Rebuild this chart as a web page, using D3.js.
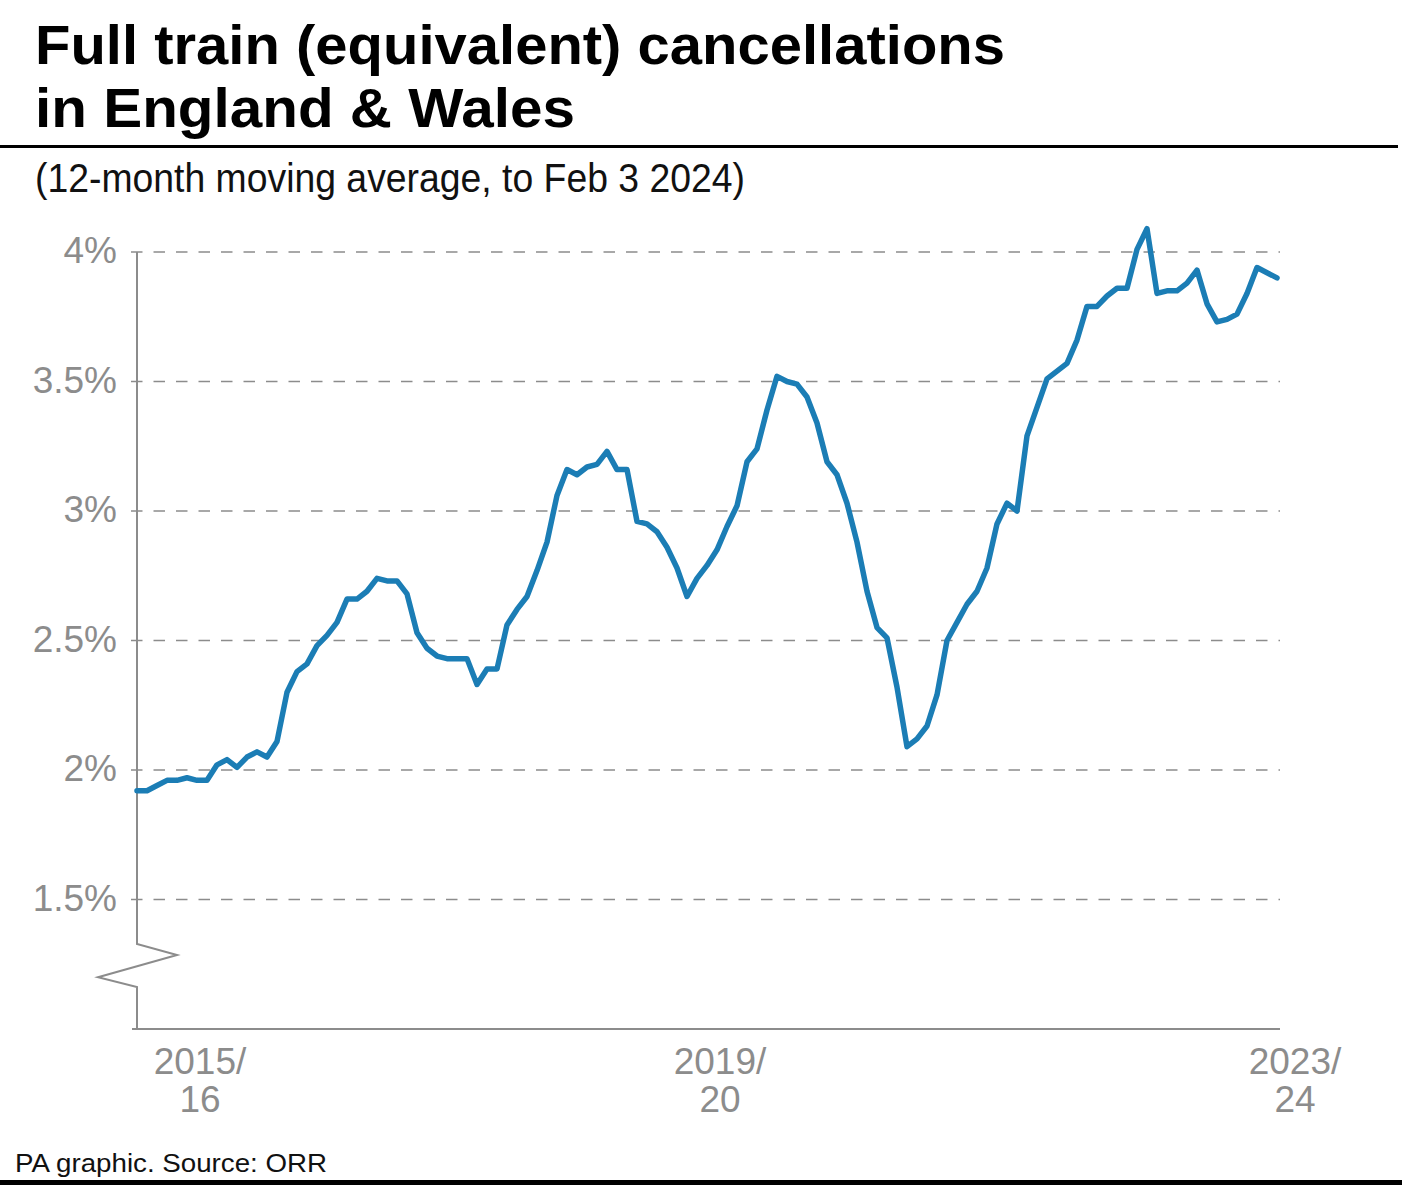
<!DOCTYPE html>
<html>
<head>
<meta charset="utf-8">
<script src="https://cdn.jsdelivr.net/npm/d3@7"></script>
<style>
  html, body { margin: 0; padding: 0; background: #fff; }
  svg { display: block; }
</style>
</head>
<body>
<script>
// ---- Data ----
const years = ["2015/16","2016/17","2017/18","2018/19","2019/20","2020/21","2021/22","2022/23","2023/24"];
const periodsPerYear = 13;
// 12-month moving average of full-train-equivalent cancellations (%), by rail period
const cancellations = [
  1.92, 1.92, 1.94, 1.96, 1.96, 1.97, 1.96, 1.96, 2.02, 2.04, 2.01, 2.05, 2.07,
  2.05, 2.11, 2.30, 2.38, 2.41, 2.48, 2.52, 2.57, 2.66, 2.66, 2.69, 2.74, 2.73,
  2.73, 2.68, 2.53, 2.47, 2.44, 2.43, 2.43, 2.43, 2.33, 2.39, 2.39, 2.56, 2.62,
  2.67, 2.77, 2.88, 3.06, 3.16, 3.14, 3.17, 3.18, 3.23, 3.16, 3.16, 2.96, 2.95,
  2.92, 2.86, 2.78, 2.67, 2.74, 2.79, 2.85, 2.94, 3.02, 3.19, 3.24, 3.39, 3.52,
  3.50, 3.49, 3.44, 3.34, 3.19, 3.14, 3.03, 2.88, 2.69, 2.55, 2.51, 2.32, 2.09,
  2.12, 2.17, 2.29, 2.50, 2.57, 2.64, 2.69, 2.78, 2.95, 3.03, 3.00, 3.29, 3.40,
  3.51, 3.54, 3.57, 3.66, 3.79, 3.79, 3.83, 3.86, 3.86, 4.01, 4.09, 3.84, 3.85,
  3.85, 3.88, 3.93, 3.80, 3.73, 3.74, 3.76, 3.84, 3.94, 3.92, 3.90
];
const periods = cancellations.map((_, i) =>
  years[Math.floor(i / periodsPerYear)] + " P" + (i % periodsPerYear + 1));

const yTicks = [1.5, 2, 2.5, 3, 3.5, 4];
const yTickLabels = ["1.5%", "2%", "2.5%", "3%", "3.5%", "4%"];
const xTickLabels = [["2015/", "16"], ["2019/", "20"], ["2023/", "24"]];
const xTickPeriods = [6.3, 58.3, 115.8];

const title = ["Full train (equivalent) cancellations", "in England & Wales"];
const subtitle = "(12-month moving average, to Feb 3 2024)";
const footer = "PA graphic. Source: ORR";

// ---- Layout ----
const W = 1402, H = 1189;
const svg = d3.select("body").append("svg").attr("width", W).attr("height", H);

const x = d3.scaleLinear().domain([0, cancellations.length - 1]).range([137, 1277]);
const y = d3.scaleLinear().domain([1, 4]).range([1029, 252]);

const gray = "#8c8c8c";
const font = "'Liberation Sans', Arial, Helvetica, sans-serif";

// Title (two lines)
svg.append("text").attr("x", 35).attr("y", 64)
  .attr("font-family", font).attr("font-weight", "bold").attr("font-size", 56)
  .attr("textLength", 970).attr("lengthAdjust", "spacingAndGlyphs")
  .attr("fill", "#000").text(title[0]);
svg.append("text").attr("x", 35).attr("y", 127)
  .attr("font-family", font).attr("font-weight", "bold").attr("font-size", 56)
  .attr("textLength", 540).attr("lengthAdjust", "spacingAndGlyphs")
  .attr("fill", "#000").text(title[1]);

// top rule
svg.append("rect").attr("x", 0).attr("y", 145).attr("width", 1398).attr("height", 3).attr("fill", "#000");

// Subtitle
svg.append("text").attr("x", 35).attr("y", 192)
  .attr("font-family", font).attr("font-size", 40)
  .attr("textLength", 710).attr("lengthAdjust", "spacingAndGlyphs")
  .attr("fill", "#111").text(subtitle);

// Gridlines
svg.append("g").selectAll("line").data(yTicks).join("line")
  .attr("x1", 131).attr("x2", 1280)
  .attr("y1", d => y(d)).attr("y2", d => y(d))
  .attr("stroke", gray).attr("stroke-width", 1.6)
  .attr("stroke-dasharray", "11.5,11");

// Y tick labels
svg.append("g").selectAll("text").data(yTicks).join("text")
  .attr("x", 117).attr("y", d => y(d)).attr("dy", "0.3em")
  .attr("text-anchor", "end")
  .attr("font-family", font).attr("font-size", 37)
  .attr("fill", gray)
  .text((d, i) => yTickLabels[i]);

// Y axis with break
const axisPath = d3.path();
axisPath.moveTo(x(0), y(4));
axisPath.lineTo(x(0), y(1.328));
axisPath.lineTo(x(0) + 40, y(1.286));
axisPath.lineTo(x(0) - 39, y(1.20));
axisPath.lineTo(x(0), y(1.162));
axisPath.lineTo(x(0), y(1));
svg.append("path").attr("d", axisPath.toString())
  .attr("fill", "none").attr("stroke", gray).attr("stroke-width", 2)
  .attr("stroke-linejoin", "miter");

// X axis
svg.append("line").attr("x1", 132).attr("x2", 1280)
  .attr("y1", y(1)).attr("y2", y(1))
  .attr("stroke", gray).attr("stroke-width", 2);

// X tick labels
const xl = svg.append("g").selectAll("text").data(xTickPeriods).join("text")
  .attr("x", d => x(d)).attr("y", 1074)
  .attr("text-anchor", "middle")
  .attr("font-family", font).attr("font-size", 37)
  .attr("fill", gray);
xl.append("tspan").attr("x", d => x(d)).text((d, i) => xTickLabels[i][0]);
xl.append("tspan").attr("x", d => x(d)).attr("dy", 38).text((d, i) => xTickLabels[i][1]);

// Line
const line = d3.line().x((d, i) => x(i)).y(d => y(d));
svg.append("path").datum(cancellations)
  .attr("d", line)
  .attr("fill", "none").attr("stroke", "#1b7db5").attr("stroke-width", 5.5)
  .attr("stroke-linejoin", "round").attr("stroke-linecap", "round");

// Footer
svg.append("text").attr("x", 15).attr("y", 1172)
  .attr("font-family", font).attr("font-size", 26)
  .attr("textLength", 312).attr("lengthAdjust", "spacingAndGlyphs")
  .attr("fill", "#111").text(footer);

svg.append("rect").attr("x", 0).attr("y", 1180).attr("width", W).attr("height", 5).attr("fill", "#000");
</script>
</body>
</html>
